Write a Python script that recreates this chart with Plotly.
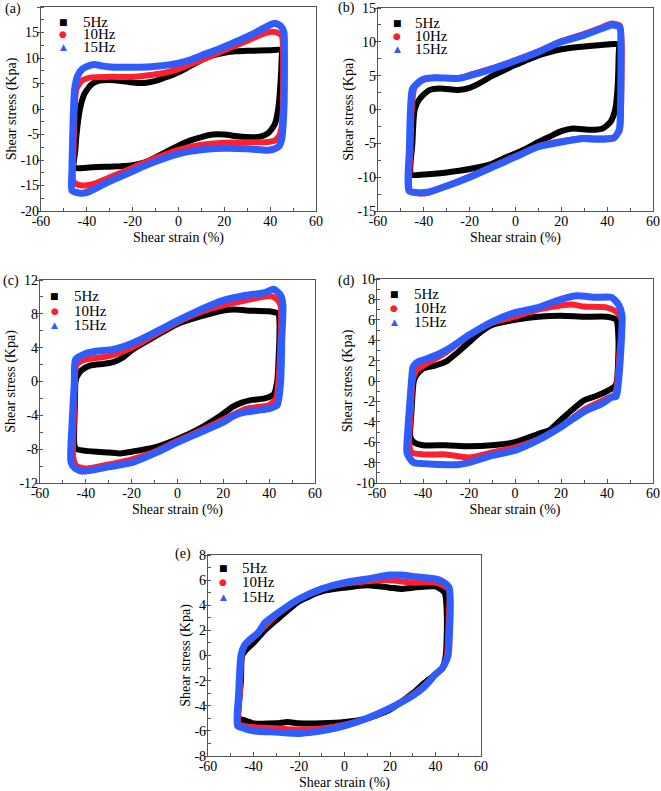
import plotly.graph_objects as go

W, H = 661, 791

# ---------------- data (strain %, stress kPa), loops traced as closed paths ----------------
# Panel (a)
a5_x = [-45.5, -45.0, -44.5, -43.0, -41.0, -38.0, -35.0, -30.0, -25.0, -20.0, -15.0, -10.0, -5.0, 0.0, 5.0, 10.0, 15.0, 20.0, 25.0, 30.0, 40.0, 45.0,
        45.0, 44.5, 43.5, 42.0, 39.0, 35.0, 30.0, 25.0, 20.0, 15.0, 10.0, 5.0, 0.0, -5.0, -10.0, -15.0, -20.0, -25.0, -30.0, -40.0, -45.5]
a5_y = [-11.5, -8.0, -5.0, 0.0, 3.0, 4.8, 5.5, 5.7, 5.5, 5.2, 5.1, 5.5, 6.3, 7.2, 8.4, 9.6, 10.5, 11.0, 11.3, 11.4, 11.5, 11.6,
        10.0, 5.0, 0.0, -3.0, -4.8, -5.5, -5.5, -5.3, -5.0, -5.0, -5.5, -6.2, -7.2, -8.3, -9.5, -10.5, -11.0, -11.2, -11.3, -11.5, -11.5]
a10_x = [-46.0, -45.8, -45.3, -44.5, -42.0, -38.0, -30.0, -20.0, -15.0, -5.0, 0.0, 10.0, 20.0, 30.0, 38.0, 42.0, 45.0,
         45.6, 45.5, 45.0, 44.0, 42.0, 38.0, 30.0, 20.0, 10.0, 0.0, -10.0, -20.0, -30.0, -38.0, -42.0, -45.0, -46.0]
a10_y = [-14.0, -8.0, 0.0, 4.0, 5.6, 6.2, 6.3, 6.3, 6.5, 7.2, 7.8, 9.6, 11.5, 13.4, 14.9, 15.1, 14.4,
         12.0, 0.0, -3.5, -5.2, -6.2, -6.5, -6.5, -6.6, -7.0, -8.0, -9.6, -11.5, -13.4, -14.8, -15.0, -14.6, -14.0]
a15_x = [-46.5, -46.5, -46.2, -45.8, -45.3, -44.0, -42.0, -39.0, -36.0, -33.0, -28.0, -20.0, -12.0, -5.0, 0.0, 5.0, 10.0, 15.0, 20.0, 25.0, 30.0, 35.0, 39.0, 42.0, 44.5, 46.0,
         46.2, 46.2, 46.0, 45.5, 45.0, 44.0, 42.0, 39.0, 36.0, 30.0, 20.0, 12.0, 5.0, 0.0, -5.0, -10.0, -15.0, -20.0, -25.0, -30.0, -35.0, -39.0, -42.0, -45.0, -46.5]
a15_y = [-16.0, -12.0, -6.0, 0.0, 4.0, 6.5, 7.8, 8.5, 8.7, 8.4, 8.2, 8.2, 8.3, 8.6, 9.0, 9.6, 10.5, 11.3, 12.2, 13.2, 14.2, 15.3, 16.3, 16.8, 16.3, 15.0,
         12.0, 5.0, 0.0, -4.0, -6.0, -7.2, -7.8, -8.1, -8.0, -7.8, -7.7, -7.9, -8.3, -8.8, -9.5, -10.3, -11.2, -12.2, -13.2, -14.2, -15.3, -16.2, -16.5, -16.3, -16.0]

# Panel (b)
b5_x = [-45.5, -45.0, -44.0, -42.0, -38.0, -33.0, -25.0, -20.0, -15.0, -10.0, -5.0, 0.0, 5.0, 10.0, 15.0, 20.0, 30.0, 40.0, 45.0,
        45.0, 44.5, 43.5, 41.5, 38.0, 33.0, 25.0, 20.0, 15.0, 10.0, 5.0, 0.0, -5.0, -10.0, -20.0, -30.0, -40.0, -45.5]
b5_y = [-9.6, -5.0, 0.0, 1.5, 2.8, 3.1, 2.9, 3.2, 4.0, 5.0, 5.8, 6.6, 7.3, 8.0, 8.5, 8.9, 9.3, 9.6, 9.6,
        8.0, 3.0, 0.0, -1.8, -2.8, -3.0, -2.8, -3.2, -4.0, -4.8, -5.7, -6.5, -7.2, -8.0, -8.8, -9.3, -9.6, -9.6]
b10_x = [-46.0, -45.8, -45.3, -44.0, -40.0, -35.0, -25.0, -20.0, -10.0, 0.0, 10.0, 20.0, 30.0, 38.0, 42.0, 45.5,
         46.3, 46.0, 45.5, 43.0, 35.0, 30.0, 20.0, 10.0, 0.0, -10.0, -20.0, -30.0, -38.0, -42.0, -46.0]
b10_y = [-12.0, -6.0, 0.0, 3.3, 4.4, 4.7, 4.6, 5.1, 6.1, 7.3, 8.6, 10.1, 11.2, 12.2, 12.7, 12.4,
         10.0, 0.0, -3.0, -4.1, -4.3, -4.2, -4.7, -5.4, -6.9, -8.4, -9.9, -11.3, -12.3, -12.4, -12.0]
b15_x = [-46.5, -46.3, -45.8, -45.0, -42.0, -40.0, -35.0, -25.0, -20.0, -10.0, 0.0, 10.0, 20.0, 30.0, 38.0, 42.0, 45.5,
         46.0, 45.8, 45.3, 43.0, 35.0, 30.0, 20.0, 10.0, 0.0, -10.0, -20.0, -30.0, -38.0, -42.0, -46.5]
b15_y = [-12.0, -6.0, 0.0, 3.0, 4.1, 4.5, 4.7, 4.6, 5.0, 6.0, 7.2, 8.5, 10.0, 11.0, 12.0, 12.5, 12.2,
         10.0, 0.0, -3.0, -4.2, -4.4, -4.3, -4.8, -5.5, -7.0, -8.5, -10.0, -11.3, -12.2, -12.3, -12.0]

# Panel (c)
c5_x = [-45.0, -44.8, -44.5, -44.0, -42.0, -38.0, -32.0, -28.0, -24.0, -20.0, -10.0, 0.0, 10.0, 20.0, 25.0, 30.0, 40.0, 44.0,
        44.5, 44.0, 43.5, 42.0, 38.0, 32.0, 28.0, 24.0, 20.0, 10.0, 0.0, -10.0, -20.0, -25.0, -30.0, -40.0, -44.0, -45.0]
c5_y = [-7.5, -3.0, 0.0, 0.5, 1.3, 1.9, 2.1, 2.3, 2.8, 3.7, 5.3, 6.8, 7.7, 8.4, 8.5, 8.4, 8.3, 8.0,
        7.0, 2.0, 0.0, -1.5, -2.0, -2.2, -2.5, -3.0, -3.8, -5.5, -6.8, -7.8, -8.3, -8.5, -8.4, -8.2, -8.0, -7.5]
c10_x = [-45.5, -45.2, -44.8, -44.0, -40.0, -30.0, -20.0, -10.0, 0.0, 10.0, 20.0, 30.0, 40.0, 43.0, 45.0,
         44.8, 44.0, 43.0, 40.0, 30.0, 20.0, 10.0, 0.0, -10.0, -20.0, -30.0, -40.0, -44.0, -45.5]
c10_y = [-9.0, -4.0, 0.0, 2.0, 2.6, 3.0, 4.0, 5.5, 7.0, 8.2, 9.0, 9.6, 10.1, 9.8, 9.0,
         4.0, 0.0, -2.0, -2.8, -3.2, -4.5, -5.8, -7.0, -8.3, -9.2, -9.8, -10.3, -10.0, -9.0]
c15_x = [-46.5, -46.0, -45.0, -44.5, -40.0, -35.0, -28.0, -20.0, -10.0, 0.0, 10.0, 20.0, 30.0, 38.0, 42.0, 45.0,
         46.0, 45.5, 45.0, 43.5, 40.0, 35.0, 30.0, 25.0, 20.0, 10.0, 0.0, -10.0, -20.0, -30.0, -38.0, -42.0, -45.0, -46.5]
c15_y = [-9.5, -5.0, 0.0, 2.6, 3.3, 3.6, 3.8, 4.5, 5.8, 7.2, 8.5, 9.6, 10.2, 10.5, 10.9, 10.2,
         9.0, 5.0, 0.0, -2.8, -3.2, -3.4, -3.6, -4.0, -4.8, -6.0, -7.2, -8.5, -9.6, -10.1, -10.5, -10.6, -10.2, -9.5]

# Panel (d)
d5_x = [-45.5, -45.0, -44.0, -43.0, -40.0, -35.0, -30.0, -25.0, -20.0, -15.0, -10.0, 0.0, 10.0, 20.0, 30.0, 40.0, 44.0,
        45.0, 44.3, 43.5, 40.0, 35.0, 30.0, 25.0, 20.0, 15.0, 10.0, 0.0, -10.0, -20.0, -30.0, -40.0, -44.0, -45.5]
d5_y = [-5.5, -3.0, 0.0, 0.5, 1.2, 1.5, 1.9, 2.8, 3.8, 4.8, 5.5, 6.0, 6.3, 6.4, 6.3, 6.3, 6.0,
        4.0, 0.0, -0.5, -1.0, -1.5, -1.9, -2.8, -3.8, -4.8, -5.2, -6.0, -6.3, -6.4, -6.3, -6.3, -6.0, -5.5]
d10_x = [-46.0, -45.3, -44.5, -43.0, -40.0, -30.0, -20.0, -10.0, 0.0, 10.0, 20.0, 25.0, 30.0, 40.0, 44.0, 46.5,
         45.5, 44.5, 43.5, 40.0, 30.0, 20.0, 10.0, 0.0, -10.0, -20.0, -30.0, -40.0, -45.0, -46.0]
d10_y = [-6.0, -3.0, 0.0, 1.0, 1.5, 2.8, 4.5, 5.7, 6.3, 7.0, 7.4, 7.5, 7.3, 7.2, 6.8, 6.0,
         3.0, 0.0, -1.3, -1.7, -2.8, -4.5, -5.7, -6.5, -7.0, -7.5, -7.2, -7.2, -7.0, -6.0]
d15_x = [-47.0, -46.0, -45.0, -44.5, -44.0, -42.0, -38.0, -30.0, -20.0, -10.0, 0.0, 10.0, 20.0, 27.0, 35.0, 42.0, 45.0, 46.5,
         46.0, 45.0, 44.0, 42.0, 38.0, 30.0, 20.0, 10.0, 0.0, -10.0, -20.0, -25.0, -30.0, -40.0, -44.0, -46.0, -47.0]
d15_y = [-7.0, -3.0, 0.0, 1.2, 1.5, 1.9, 2.2, 3.0, 4.5, 5.8, 6.7, 7.2, 8.0, 8.35, 8.2, 8.2, 7.5, 6.5,
         3.0, 0.0, -1.5, -1.6, -2.2, -3.0, -4.5, -5.8, -6.8, -7.3, -8.0, -8.2, -8.2, -8.1, -8.0, -7.5, -7.0]

# Panel (e)
e5_x = [-46.5, -45.5, -45.0, -43.0, -40.0, -35.0, -30.0, -20.0, -10.0, 0.0, 10.0, 20.0, 25.0, 30.0, 40.0, 44.0,
        45.0, 44.5, 43.0, 40.0, 35.0, 30.0, 20.0, 10.0, 0.0, -10.0, -20.0, -25.0, -30.0, -40.0, -45.0, -46.5]
e5_y = [-5.0, -2.0, 0.0, 0.5, 1.0, 2.0, 2.8, 4.3, 5.1, 5.4, 5.6, 5.4, 5.3, 5.4, 5.5, 5.0,
        3.0, 0.0, -1.0, -1.5, -2.2, -3.0, -4.3, -5.0, -5.3, -5.4, -5.4, -5.3, -5.4, -5.4, -5.1, -5.0]
e10_x = [-46.5, -46.0, -45.3, -44.0, -42.0, -38.0, -30.0, -20.0, -10.0, 0.0, 10.0, 20.0, 30.0, 40.0, 44.0, 46.0,
         45.8, 45.0, 43.0, 40.0, 35.0, 30.0, 20.0, 10.0, 0.0, -10.0, -20.0, -30.0, -40.0, -44.0, -46.5]
e10_y = [-5.5, -3.0, 0.0, 0.8, 1.1, 1.8, 3.2, 4.5, 5.3, 5.7, 5.9, 6.0, 5.8, 5.8, 5.5, 5.2,
         3.0, 0.0, -1.0, -1.5, -2.4, -3.1, -4.2, -5.0, -5.5, -5.8, -5.9, -5.8, -5.7, -5.6, -5.5]
e15_x = [-47.0, -46.5, -45.5, -44.0, -42.0, -38.0, -35.0, -30.0, -20.0, -10.0, 0.0, 10.0, 20.0, 25.0, 30.0, 40.0, 43.0, 46.0,
         46.5, 45.5, 44.5, 43.0, 40.0, 35.0, 30.0, 20.0, 10.0, 0.0, -10.0, -20.0, -30.0, -40.0, -44.0, -47.0]
e15_y = [-5.6, -3.0, 0.0, 0.8, 1.2, 1.8, 2.6, 3.3, 4.5, 5.3, 5.8, 6.1, 6.4, 6.4, 6.3, 6.1, 5.9, 5.4,
         4.0, 0.0, -0.5, -1.0, -1.5, -2.5, -3.2, -4.2, -5.0, -5.6, -6.0, -6.2, -6.1, -6.0, -5.8, -5.6]

series_names = ["5Hz", "10Hz", "15Hz"]
panel_labels = ["(a)", "(b)", "(c)", "(d)", "(e)"]

x_tickvals = [-60, -40, -20, 0, 20, 40, 60]
x_ticktext = ["-60", "-40", "-20", "0", "20", "40", "60"]
y_ticks_a = [-20, -15, -10, -5, 0, 5, 10, 15, 20]
y_ticks_b = [-15, -10, -5, 0, 5, 10, 15]
y_ticks_c = [-12, -8, -4, 0, 4, 8, 12]
y_ticks_d = [-10, -8, -6, -4, -2, 0, 2, 4, 6, 8, 10]
y_ticks_e = [-8, -6, -4, -2, 0, 2, 4, 6, 8]

# layout (pixel boxes of the plot areas, label and legend offsets)
panels = [
    dict(data=[(a5_x, a5_y), (a10_x, a10_y), (a15_x, a15_y)], yt=y_ticks_a, ydt_minor=2.5,
         box=(41, 316, 7, 211), lab=(3, 9), leg=(22, 40, [15, 27.5, 40.5])),
    dict(data=[(b5_x, b5_y), (b10_x, b10_y), (b15_x, b15_y)], yt=y_ticks_b, ydt_minor=2.5,
         box=(378, 653, 8, 211), lab=(336, 8), leg=(19, 35, [15, 27.5, 41])),
    dict(data=[(c5_x, c5_y), (c10_x, c10_y), (c15_x, c15_y)], yt=y_ticks_c, ydt_minor=2,
         box=(40, 315, 280, 483), lab=(1, 281), leg=(15, 32, [16, 31, 45])),
    dict(data=[(d5_x, d5_y), (d10_x, d10_y), (d15_x, d15_y)], yt=y_ticks_d, ydt_minor=1,
         box=(377, 653, 279, 483), lab=(336, 281), leg=(17, 35, [15, 28.5, 43])),
    dict(data=[(e5_x, e5_y), (e10_x, e10_y), (e15_x, e15_y)], yt=y_ticks_e, ydt_minor=1,
         box=(208, 481, 555, 756), lab=(173, 554), leg=(15, 32, [13, 27, 42])),
]

colors = ["#000000", "#ff1f2e", "#2f5cff"]
glyphs = ["\u25A0", "\u25CF", "\u25B2"]
widths = [6, 6, 7]
FONT = "Liberation Serif"
AXCOL = "#555555"

fig = go.Figure()
layout = dict(width=W, height=H, margin=dict(l=0, r=0, t=0, b=0, autoexpand=False),
              paper_bgcolor="white", plot_bgcolor="white", showlegend=False,
              font=dict(family=FONT, size=14, color="black"), annotations=[])

for i, p in enumerate(panels):
    n = i + 1
    xa = "x" if n == 1 else f"x{n}"
    ya = "y" if n == 1 else f"y{n}"
    l, r, t, b = p["box"]
    for k, (xs, ys) in enumerate(p["data"]):
        fig.add_trace(go.Scatter(x=xs, y=ys, mode="lines", xaxis=xa, yaxis=ya, name=series_names[k],
                                 line=dict(color=colors[k], width=widths[k], shape="spline", smoothing=0.6),
                                 showlegend=False, hoverinfo="skip"))
    yt = p["yt"]
    axx = dict(domain=[l / W, r / W], range=[-60, 60], anchor=ya, automargin=False,
               tickvals=x_tickvals, ticktext=x_ticktext, ticks="inside", ticklen=4,
               ticklabelstandoff=-3,
               tickcolor=AXCOL, showline=True, linecolor=AXCOL, linewidth=1.3, mirror=True,
               showgrid=False, zeroline=False, tickfont=dict(size=14),
               minor=dict(dtick=10, ticks="inside", ticklen=3, tickcolor=AXCOL, showgrid=False),
               title=dict(text="Shear strain (%)", font=dict(size=14), standoff=4))
    axy = dict(domain=[1 - b / H, 1 - t / H], range=[yt[0], yt[-1]], anchor=xa, automargin=False,
               tickvals=yt, ticktext=[str(v) for v in yt], ticks="outside", ticklen=3,
               ticklabelstandoff=-5,
               tickcolor=AXCOL, showline=True, linecolor=AXCOL, linewidth=1.3, mirror=True,
               showgrid=False, zeroline=False, tickfont=dict(size=14),
               minor=dict(dtick=p["ydt_minor"], ticks="inside", ticklen=3, tickcolor=AXCOL, showgrid=False),
               title=dict(text="Shear stress (Kpa)", font=dict(size=14), standoff=0))
    layout["xaxis" if n == 1 else f"xaxis{n}"] = axx
    layout["yaxis" if n == 1 else f"yaxis{n}"] = axy
    lx, ly = p["lab"]
    layout["annotations"].append(dict(text=panel_labels[i], x=lx / W, y=1 - ly / H, xref="paper", yref="paper",
                                      xanchor="left", yanchor="middle", showarrow=False,
                                      font=dict(size=14, family=FONT)))
    mx, tx, rows = p["leg"]
    for k in range(3):
        yy = 1 - (t + rows[k]) / H
        layout["annotations"].append(dict(text=glyphs[k], x=(l + mx) / W, y=yy, xref="paper", yref="paper",
                                          xanchor="center", yanchor="middle", showarrow=False,
                                          font=dict(size=9, family="DejaVu Sans", color=colors[k])))
        layout["annotations"].append(dict(text=series_names[k], x=(l + tx) / W, y=yy, xref="paper", yref="paper",
                                          xanchor="left", yanchor="middle", showarrow=False,
                                          font=dict(size=15, family=FONT, color="black")))

fig.update_layout(**layout)
fig.write_html("out.html", config={"displayModeBar": False},
               post_script="document.body.style.margin='0';document.body.style.padding='0';"
                           "document.documentElement.style.overflow='hidden';")
